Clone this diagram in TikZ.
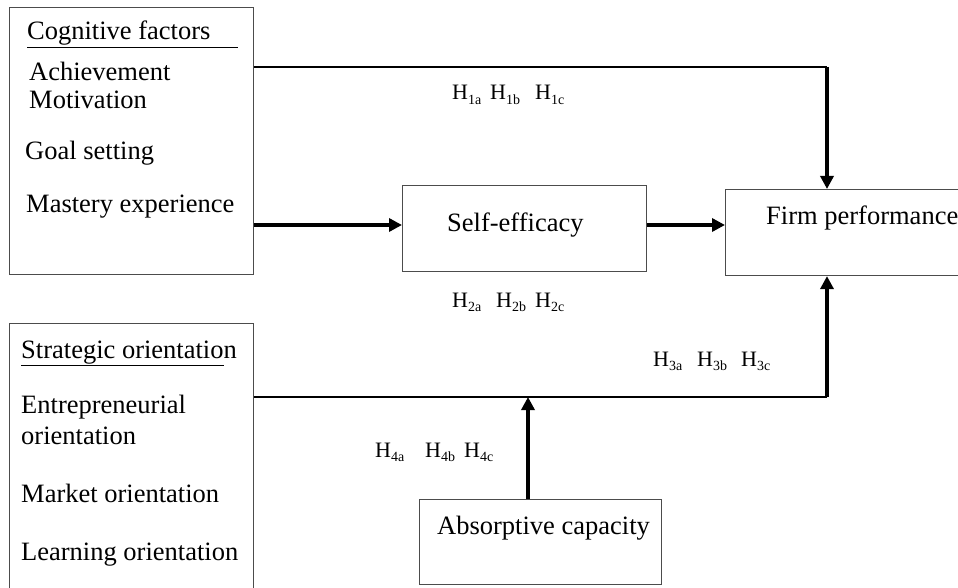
\documentclass[tikz,border=0pt]{standalone}
\usepackage{fontspec}
\setmainfont{Liberation Serif}
\usetikzlibrary{arrows.meta}
% hypothesis label: H with a lowered, smaller index
\newcommand\Hyp[1]{H\raisebox{-0.22em}{\fontsize{14}{14}\selectfont #1}}
\begin{document}
\begin{tikzpicture}[x=1pt,y=-1pt,
  box/.style={draw=black!70, line width=1.1pt, anchor=north west, inner sep=0pt},
  txt/.style={font=\fontsize{26.5}{30}\selectfont, anchor=base west, inner sep=0pt},
  hyp/.style={font=\fontsize{22}{24}\selectfont, anchor=base west, inner sep=0pt},
  link/.style={line width=1.3pt},
  bold arrow/.style={line width=3.4pt, -{Triangle[length=13pt,width=13pt]}},
]
\useasboundingbox (0,0) rectangle (958,588);
\clip (0,0) rectangle (958,588);

% boxes
\node[box, minimum width=244pt, minimum height=267pt] (cog) at (9,7) {};
\node[box, minimum width=244pt, minimum height=300pt] (strat) at (9,323) {};
\node[box, minimum width=244pt, minimum height=86pt] (se) at (402,185) {};
\node[box, minimum width=260pt, minimum height=86pt] (firm) at (725,189) {};
\node[box, minimum width=242pt, minimum height=85pt] (absorb) at (419,499) {};

% cognitive factors
\node[txt] (cogT) at (27,40) {\underline{Cognitive factors\hspace{28pt}}};
\node[txt] (ach) at (29,81) {Achievement};
\node[txt] (mot) at (29,109) {Motivation};
\node[txt] (goal) at (25,160) {Goal setting};
\node[txt] (mast) at (26,212) {Mastery experience};

% strategic orientation
\node[txt] (stratT) at (21,358) {\underline{Strategic orientatio}n};
\node[txt] (eo1) at (21,413) {Entrepreneurial};
\node[txt] (eo2) at (21,444) {orientation};
\node[txt] (mo) at (21,502) {Market orientation};
\node[txt] (lo) at (21,560) {Learning orientation};

% box captions
\node[txt] (seT) at (447,232) {Self-efficacy};
\node[txt] (firmT) at (766,224) {Firm performance};
\node[txt] (absT) at (437,534) {Absorptive capacity};

% hypothesis labels
\node[hyp] (h1a) at (452,100) {\Hyp{1a}};
\node[hyp] (h1b) at (490,100) {\Hyp{1b}};
\node[hyp] (h1c) at (535,100) {\Hyp{1c}};
\node[hyp] (h2a) at (452,307) {\Hyp{2a}};
\node[hyp] (h2b) at (496,307) {\Hyp{2b}};
\node[hyp] (h2c) at (535,307) {\Hyp{2c}};
\node[hyp] (h3a) at (653,366) {\Hyp{3a}};
\node[hyp] (h3b) at (697,366) {\Hyp{3b}};
\node[hyp] (h3c) at (741,366) {\Hyp{3c}};
\node[hyp] (h4a) at (375,457) {\Hyp{4a}};
\node[hyp] (h4b) at (425,457) {\Hyp{4b}};
\node[hyp] (h4c) at (464,457) {\Hyp{4c}};

% junction points
\coordinate (top) at (827,67);
\coordinate (low) at (827,397);
\coordinate (mid) at (528,397);
\coordinate (row) at (0,225);

% connectors
\draw[link] (cog.east |- top) -- (top);
\draw[bold arrow] (top) -- (firm.north -| top);
\draw[bold arrow] (cog.east |- row) -- (se.west |- row);
\draw[bold arrow] (se.east |- row) -- (firm.west |- row);
\draw[link] (strat.east |- low) -- (low);
\draw[bold arrow] (low) -- (firm.south -| low);
\draw[bold arrow] (absorb.north -| mid) -- (mid);
\end{tikzpicture}
\end{document}
